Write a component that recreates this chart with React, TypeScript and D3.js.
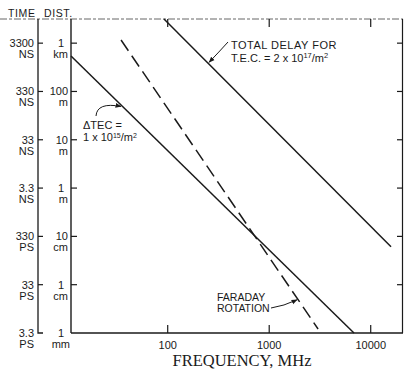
import React from "react";
import * as d3 from "d3";

// Axis ticks
const freqTicks = [100, 1000, 10000];
const freqTickLabels = ["100", "1000", "10000"];
const distTicks = [1000, 100, 10, 1, 0.1, 0.01, 0.001];
const timeValues = ["3300", "330", "33", "3.3", "330", "33", "3.3"];
const timeUnits = ["NS", "NS", "NS", "NS", "PS", "PS", "PS"];
const distValues = ["1", "100", "10", "1", "10", "1", "1"];
const distUnits = ["km", "m", "m", "m", "cm", "cm", "mm"];

// Series (frequency MHz, distance m)
const totalDelayF = [91.9, 15850];
const totalDelayD = [3162, 0.061];
const deltaTecF = [11.15, 6840];
const deltaTecD = [540, 0.001];
const faradayF = [34.7, 3030];
const faradayD = [1160, 0.00121];

const W = 404;
const H = 371;
const INK = "#1a1a1a";
const FONT = "'Liberation Sans', Arial, sans-serif";

export default function App() {
  const x = d3.scaleLog().domain([11.15, 20800]).range([71, 403]);
  const y = d3.scaleLog().domain([0.001, 3162]).range([333, 19]);
  const line = d3
    .line<[number, number]>()
    .x((d) => x(d[0]))
    .y((d) => y(d[1]));
  const pts = (fs: number[], ds: number[]) => fs.map((f, i) => [f, ds[i]] as [number, number]);

  const onLine = (fs: number[], ds: number[], f: number): [number, number] => {
    const t = (Math.log(f) - Math.log(fs[0])) / (Math.log(fs[1]) - Math.log(fs[0]));
    const ld = Math.log(ds[0]) + t * (Math.log(ds[1]) - Math.log(ds[0]));
    return [x(f), y(Math.exp(ld))];
  };

  const x0 = x.range()[0];
  const x1 = x.range()[1];
  const yTop = y.range()[1];
  const yBot = y.range()[0];
  const outerX = 38;

  const tdTip = onLine(totalDelayF, totalDelayD, 250);
  const dtTip = onLine(deltaTecF, deltaTecD, 35);
  const frTip = onLine(faradayF, faradayD, 1900);

  return (
    <svg width={W} height={H} style={{ display: "block", position: "absolute", left: 0, top: 0, background: "#fff" }}>
      <defs>
        <marker id="ah" viewBox="0 0 10 10" refX="9" refY="5" markerWidth="6" markerHeight="6" orient="auto">
          <path d="M0,1 L10,5 L0,9 z" fill={INK} />
        </marker>
      </defs>
      <rect width={W} height={H} fill="#fff" />
      {/* header */}
      <text x={8} y={17} fontFamily={FONT} fontSize={10.5} fill={INK} letterSpacing={0.6}>
        TIME
      </text>
      <text x={44} y={17} fontFamily={FONT} fontSize={10.5} fill={INK} letterSpacing={0.6}>
        DIST.
      </text>
      {/* top border (dotted scan) */}
      <line x1={0} x2={x1} y1={yTop} y2={yTop} stroke="#666" strokeWidth={1} strokeDasharray="7,2,3,2" />
      {/* outer time axis */}
      <polyline points={`${outerX},${yTop} ${outerX},${yBot} ${outerX + 5},${yBot}`} fill="none" stroke={INK} strokeWidth={1.3} />
      {/* main axes */}
      <line x1={x0} x2={x0} y1={yTop} y2={yBot} stroke={INK} strokeWidth={1.4} />
      <line x1={x0} x2={x1} y1={yBot} y2={yBot} stroke={INK} strokeWidth={1.4} />
      <line x1={x1 - 0.5} x2={x1 - 0.5} y1={yTop} y2={yBot} stroke={INK} strokeWidth={1.2} />

      {distTicks.map((d, i) => (
        <g key={"yt" + i}>
          {i < distTicks.length - 1 && (
            <>
              <line x1={outerX} x2={outerX + 5} y1={y(d)} y2={y(d)} stroke={INK} strokeWidth={1.2} />
              <line x1={x0} x2={x0 + 6} y1={y(d)} y2={y(d)} stroke={INK} strokeWidth={1.2} />
              <line x1={x1 - 6} x2={x1} y1={y(d)} y2={y(d)} stroke={INK} strokeWidth={1.2} />
            </>
          )}
          <text x={34} y={y(d) + 4} textAnchor="end" fontFamily={FONT} fontSize={11} fill={INK}>
            {timeValues[i]}
          </text>
          <text x={34} y={y(d) + 15} textAnchor="end" fontFamily={FONT} fontSize={11} fill={INK}>
            {timeUnits[i]}
          </text>
          <text x={i === 0 || i === 3 || i === 5 || i === 6 ? 64 : 68} y={y(d) + 4} textAnchor="end" fontFamily={FONT} fontSize={11} fill={INK}>
            {distValues[i]}
          </text>
          <text x={i === 6 ? 70 : 68} y={y(d) + 15} textAnchor="end" fontFamily={FONT} fontSize={11} fill={INK}>
            {distUnits[i]}
          </text>
        </g>
      ))}

      {freqTicks.map((f, i) => (
        <g key={"xt" + i}>
          <line x1={x(f)} x2={x(f)} y1={yBot} y2={yBot - 8} stroke={INK} strokeWidth={1.2} />
          <line x1={x(f)} x2={x(f)} y1={yTop} y2={yTop + 8} stroke={INK} strokeWidth={1.2} />
          <text x={x(f)} y={yBot + 16} textAnchor="middle" fontFamily={FONT} fontSize={11} fill={INK}>
            {freqTickLabels[i]}
          </text>
        </g>
      ))}

      <text x={242} y={366} textAnchor="middle" fontFamily="'Liberation Serif', 'Times New Roman', serif" fontSize={16.5} fill={INK}>
        FREQUENCY, MHz
      </text>

      {/* series */}
      <path d={line(pts(totalDelayF, totalDelayD)) || ""} fill="none" stroke={INK} strokeWidth={1.5} />
      <path d={line(pts(deltaTecF, deltaTecD)) || ""} fill="none" stroke={INK} strokeWidth={1.5} />
      <path d={line(pts(faradayF, faradayD)) || ""} fill="none" stroke={INK} strokeWidth={1.5} strokeDasharray="13,6" />

      {/* annotations */}
      <text x={231} y={48.5} fontFamily={FONT} fontSize={11} fill={INK} letterSpacing={0.5}>
        TOTAL DELAY FOR
      </text>
      <text x={231} y={62} fontFamily={FONT} fontSize={11} fill={INK}>
        T.E.C. = 2 x 10
        <tspan fontSize={7.5} dy={-4}>17</tspan>
        <tspan dy={4}>/m</tspan>
        <tspan fontSize={7.5} dy={-4}>2</tspan>
      </text>
      <path
        d={`M228,42 Q219,52 ${tdTip[0] + 1},${tdTip[1] - 1}`}
        fill="none"
        stroke={INK}
        strokeWidth={1}
        markerEnd="url(#ah)"
      />

      <text x={83} y={128.5} fontFamily={FONT} fontSize={11} fill={INK}>
        ΔTEC =
      </text>
      <text x={83} y={140.5} fontFamily={FONT} fontSize={11} fill={INK}>
        1 x 10
        <tspan fontSize={7} dy={-3}>15</tspan>
        <tspan dy={3}>/m</tspan>
        <tspan fontSize={7} dy={-3}>2</tspan>
      </text>
      <path
        d={`M96,116 Q97,102 ${dtTip[0] - 0.5},${dtTip[1] + 1}`}
        fill="none"
        stroke={INK}
        strokeWidth={1}
        markerEnd="url(#ah)"
      />

      <text x={217} y={301} fontFamily={FONT} fontSize={10.5} fill={INK}>
        FARADAY
      </text>
      <text x={217} y={311.5} fontFamily={FONT} fontSize={10.5} fill={INK}>
        ROTATION
      </text>
      <path
        d={`M271,308 Q284,306 ${frTip[0] - 0.5},${frTip[1] + 1}`}
        fill="none"
        stroke={INK}
        strokeWidth={1}
        markerEnd="url(#ah)"
      />
    </svg>
  );
}
